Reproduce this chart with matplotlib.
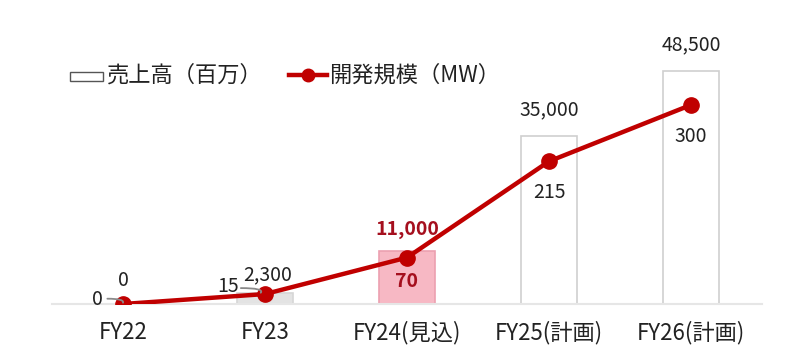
import matplotlib.pyplot as plt
import numpy as np

plt.rcParams['font.family'] = ['Noto Sans CJK JP', 'DejaVu Sans']

categories = ["FY22", "FY23", "FY24(見込)", "FY25(計画)", "FY26(計画)"]
sales = [0, 2300, 11000, 35000, 48500]          # 売上高（百万）
sales_labels = ["0", "2,300", "11,000", "35,000", "48,500"]
capacity = [0, 15, 70, 215, 300]                # 開発規模（MW）
capacity_labels = ["0", "15", "70", "215", "300"]

bar_faces = ["white", "#e3e3e3", "#f7b8c4", "white", "white"]
bar_edges = ["#cfcfcf", "#d6d6d6", "#eca0b0", "#cfcfcf", "#cfcfcf"]
red = "#c00000"

fig = plt.figure(figsize=(8, 3.63), dpi=100)
ax = fig.add_axes([0.065, 0.1625, 0.8875, 0.755])
ax2 = ax.twinx()

x = np.arange(len(categories))
ax.bar(x, sales, width=0.4, color=bar_faces, edgecolor=bar_edges, linewidth=1.2, zorder=1)
ax.set_xlim(-0.5, 4.5)
ax.set_ylim(0, 57000)
ax2.set_ylim(0, 413)

ax2.plot(x, capacity, color=red, lw=3.2, marker="o", ms=11, zorder=3)

# bar value labels
for i, (v, lab) in enumerate(zip(sales, sales_labels)):
    if i == 2:
        ax.text(i, v + 2600, lab, ha="center", va="bottom", fontsize=14,
                color="#a50f1e", fontweight="bold")
    elif i == 1:
        ax.text(i + 0.02, v + 1600, lab, ha="center", va="bottom", fontsize=14, color="#222222")
    elif i == 0:
        ax.text(i, v + 2700, lab, ha="center", va="bottom", fontsize=14, color="#222222")
    else:
        ax.text(i, v + 3200, lab, ha="center", va="bottom", fontsize=14, color="#222222")

# line value labels
ax2.text(-0.18, 7, capacity_labels[0], ha="center", va="center", fontsize=14, color="#222222")
ax2.text(0.74, 26, capacity_labels[1], ha="center", va="center", fontsize=14, color="#222222")
ax2.text(2, 34, capacity_labels[2], ha="center", va="center", fontsize=14,
         color="#a50f1e", fontweight="bold")
ax2.text(3, 168, capacity_labels[3], ha="center", va="center", fontsize=14, color="#222222")
ax2.text(4, 253, capacity_labels[4], ha="center", va="center", fontsize=14, color="#222222")

# leader lines
ax2.annotate("", xy=(0.0, 2), xytext=(-0.11, 8),
             arrowprops=dict(arrowstyle="-", color="#8a8a8a", lw=1.3,
                             connectionstyle="angle3,angleA=0,angleB=70",
                             shrinkA=0, shrinkB=0))
ax2.annotate("", xy=(0.97, 17), xytext=(0.83, 24),
             arrowprops=dict(arrowstyle="-", color="#8a8a8a", lw=1.3,
                             connectionstyle="angle3,angleA=0,angleB=50",
                             shrinkA=0, shrinkB=0))

for a in (ax, ax2):
    for s in a.spines.values():
        s.set_visible(False)
    a.set_yticks([])
ax.spines["bottom"].set_visible(True)
ax.spines["bottom"].set_color("#e6e6e6")
ax.spines["bottom"].set_linewidth(1.5)
ax.set_xticks(x)
ax.set_xticklabels(categories, fontsize=16, color="#222222")
ax.tick_params(axis="x", length=0, pad=12)

# legend drawn as figure artists
fig.patches.append(plt.Rectangle((70 / 800, 1 - 81 / 363), 33 / 800, 9 / 363,
                                 transform=fig.transFigure, facecolor="white",
                                 edgecolor="#555555", lw=1))
fig.text(107 / 800, 1 - 75 / 363, "売上高（百万）", fontsize=16, va="center", color="#222222")
fig.lines.append(plt.Line2D([289 / 800, 327 / 800], [1 - 75 / 363, 1 - 75 / 363],
                            transform=fig.transFigure, color=red, lw=3.2))
fig.lines.append(plt.Line2D([308 / 800], [1 - 75 / 363], transform=fig.transFigure,
                            color=red, marker="o", ms=9, lw=0))
fig.text(329 / 800, 1 - 75 / 363, "開発規模（MW）", fontsize=16, va="center", color="#222222")

fig.savefig("out.png", dpi=100)
